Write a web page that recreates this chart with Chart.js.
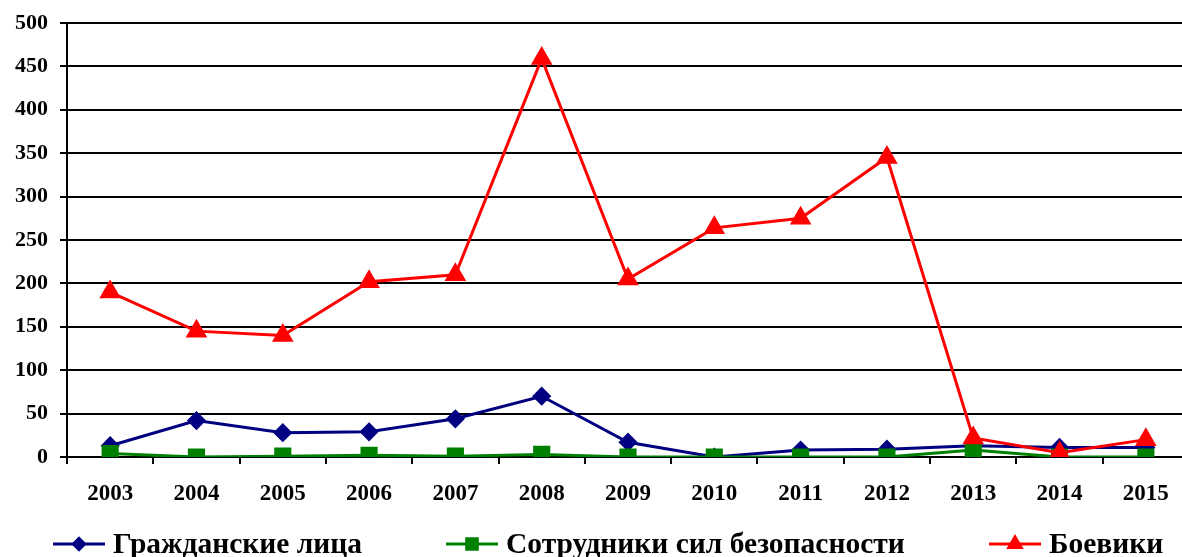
<!DOCTYPE html>
<html>
<head>
<meta charset="utf-8">
<script src="https://cdn.jsdelivr.net/npm/chart.js@4/dist/chart.umd.min.js"></script>
<style>
    html, body { margin: 0; padding: 0; background: #fff; overflow: hidden; }
    canvas { display: block; }
</style>
</head>
<body>
<canvas id="chart" width="1202" height="557"></canvas>
<script>
// Values
const years = ['2003', '2004', '2005', '2006', '2007', '2008', '2009', '2010', '2011', '2012', '2013', '2014', '2015'];
const civilians = [13, 42, 28, 29, 44, 70, 17, 0, 8, 9, 13, 11, 11];
const security = [4, 0, 1, 2, 1, 3, 0, 0, 0, 0, 8, 0, 0];
const militants = [190, 145, 140, 202, 210, 459, 205, 264, 275, 345, 22, 5, 20];
const seriesNames = ['Гражданские лица', 'Сотрудники сил безопасности', 'Боевики'];

const FONT = "'Liberation Serif', 'Times New Roman', serif";

// legend drawn by hand: line with marker in the middle, then the label
const lineLegend = {
    id: 'lineLegend',
    afterDraw(chart, args, opts) {
        const ctx = chart.ctx;
        ctx.save();
        chart.data.datasets.forEach((ds, i) => {
            const x = opts.x[i];
            const y = opts.y;
            ctx.strokeStyle = ds.borderColor;
            ctx.fillStyle = ds.borderColor;
            ctx.lineWidth = 3;
            ctx.beginPath();
            ctx.moveTo(x, y);
            ctx.lineTo(x + opts.lineLen, y);
            ctx.stroke();
            Chart.helpers.drawPoint(ctx, {
                pointStyle: ds.pointStyle,
                radius: ds.pointRadius * 0.75,
                borderWidth: 1,
            }, x + opts.lineLen / 2, y);
            ctx.fillStyle = '#000';
            ctx.font = `bold ${opts.fontSize}px ${FONT}`;
            ctx.textBaseline = 'alphabetic';
            ctx.fillText(ds.label, x + opts.lineLen + 8, opts.textY);
        });
        ctx.restore();
    },
};

function series(label, data, color, style, radius, order) {
    return {
        label, data, order,
        borderColor: color,
        backgroundColor: color,
        pointBackgroundColor: color,
        pointBorderColor: color,
        borderWidth: 3,
        pointStyle: style,
        pointRadius: radius,
        pointHoverRadius: radius,
        tension: 0,
    };
}

new Chart(document.getElementById('chart'), {
    type: 'line',
    data: {
        labels: years,
        datasets: [
            series(seriesNames[0], civilians, '#000080', 'rectRot', 7.5, 3),
            series(seriesNames[1], security, '#008000', 'rect', 10, 2),
            series(seriesNames[2], militants, '#ff0000', 'triangle', 9.5, 1),
        ],
    },
    plugins: [lineLegend],
    options: {
        responsive: false,
        animation: false,
        layout: { padding: { top: 22, right: 2, bottom: 50, left: 0 } },
        plugins: {
            legend: { display: false },
            tooltip: { enabled: false },
            lineLegend: { x: [53, 446, 989], y: 544, textY: 553, lineLen: 52, fontSize: 29.5 },
        },
        scales: {
            x: {
                offset: true,
                grid: {
                    offset: true,
                    drawOnChartArea: false,
                    drawTicks: true,
                    tickLength: 7,
                    color: '#000',
                    lineWidth: 2,
                },
                border: { display: true, color: '#000', width: 2 },
                ticks: {
                    color: '#000',
                    padding: 16,
                    maxRotation: 0,
                    font: { family: FONT, size: 23, weight: 'bold' },
                },
                afterFit(scale) { scale.height = 50; },
            },
            y: {
                min: 0,
                max: 500,
                grid: {
                    color: '#000',
                    lineWidth: 2,
                    tickLength: 7,
                },
                border: { display: true, color: '#000', width: 2 },
                ticks: {
                    stepSize: 50,
                    color: '#000',
                    padding: 12,
                    font: { family: FONT, size: 22, weight: 'bold', lineHeight: 1 },
                },
                afterFit(scale) { scale.width = 67; },
            },
        },
    },
});
</script>
</body>
</html>
